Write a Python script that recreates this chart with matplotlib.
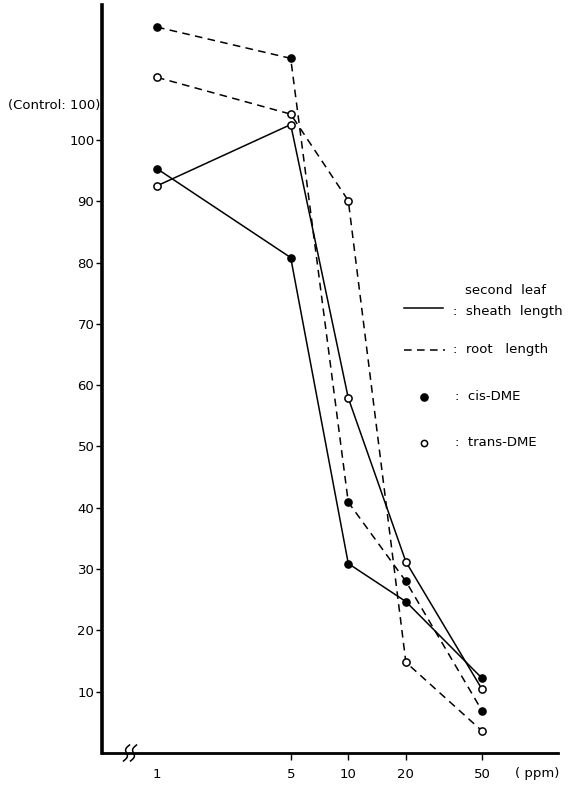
import numpy as np
import matplotlib
matplotlib.use("Agg")
import matplotlib.pyplot as plt
from matplotlib.lines import Line2D

# concentration (ppm) and growth relative to control (=100)
ppm = [1, 5, 10, 20, 50]
sheath_cis = [95.3, 80.8, 30.9, 24.7, 12.2]
sheath_trans = [92.5, 102.5, 57.9, 31.2, 10.4]
root_cis = [118.4, 113.3, 40.9, 28.0, 6.9]
root_trans = [110.2, 104.2, 90.1, 14.8, 3.6]

y_ticks = [10, 20, 30, 40, 50, 60, 70, 80, 90, 100]
x_ticks = [1, 5, 10, 20, 50]
x_ticklabels = ["1", "5", "10", "20", "50"]

plt.rcParams["font.family"] = ["DejaVu Sans"]
plt.rcParams["font.size"] = 9.5

W, H = 577, 787
fig = plt.figure(figsize=(W / 100, H / 100), dpi=100)
ax = fig.add_axes([102 / W, 1 - 753 / H, 456 / W, 748 / H])

lw = 1.1
dash = (5, 3.5)
style = dict(color="black", linewidth=lw, markersize=5.2, clip_on=False, zorder=3)

ax.plot(ppm, sheath_cis, "-o", markerfacecolor="black", **style)
ax.plot(ppm, sheath_trans, "-o", markerfacecolor="white", markeredgewidth=1.1, **style)
ax.plot(ppm, root_cis, "--o", dashes=dash, markerfacecolor="black", **style)
ax.plot(ppm, root_trans, "--o", dashes=dash, markerfacecolor="white", markeredgewidth=1.1, **style)

ax.set_xscale("log")
ax.set_xlim(0.516, 124.8)
ax.set_ylim(0, 122.0)

for side in ["top", "right"]:
    ax.spines[side].set_visible(False)
ax.spines["left"].set_linewidth(2.6)
ax.spines["bottom"].set_linewidth(2.0)

ax.set_yticks(y_ticks)
ax.set_yticklabels([str(v) for v in y_ticks])
ax.tick_params(axis="y", direction="out", length=4, width=1, pad=1.5)

ax.set_xticks(x_ticks)
ax.set_xticklabels(x_ticklabels)
ax.xaxis.set_minor_locator(matplotlib.ticker.NullLocator())
ax.tick_params(axis="x", direction="out", length=5, width=1, pad=6)
ax.xaxis.get_major_ticks()[0].tick1line.set_visible(False)

ax.text(-0.004, 105.6, "(Control: 100)", transform=ax.get_yaxis_transform(),
        ha="right", va="center")
fig.text(537 / W, 1 - 774 / H, "( ppm)", ha="center", va="center")

# axis break mark on the x axis
t = np.linspace(-1, 1, 30)
for dx in (-3.5, 3.5):
    xs = (130 + dx + 2.2 * np.sin(t * np.pi) - 3 * t) / W
    ys = 1 - (753 + 8 * t) / H
    fig.add_artist(Line2D(xs, ys, color="black", linewidth=1.1))

# legend drawn by hand
def fx(px):
    return px / W


def fy(py):
    return 1 - py / H


fig.text(fx(465), fy(291), "second  leaf", va="center")
fig.add_artist(Line2D([fx(404), fx(443)], [fy(308), fy(308)], color="black", linewidth=lw))
fig.text(fx(453), fy(311), ":  sheath  length", va="center")
fig.add_artist(Line2D([fx(404), fx(445)], [fy(350), fy(350)], color="black",
                      linewidth=lw, dashes=dash))
fig.text(fx(453), fy(350), ":  root   length", va="center")
fig.add_artist(Line2D([fx(424)], [fy(397)], marker="o", color="black",
                      markerfacecolor="black", markersize=5.2, linestyle="none"))
fig.text(fx(455), fy(397), ":  cis-DME", va="center")
fig.add_artist(Line2D([fx(424)], [fy(443)], marker="o", color="black",
                      markerfacecolor="white", markersize=4.5, markeredgewidth=1.1,
                      linestyle="none"))
fig.text(fx(455), fy(443), ":  trans-DME", va="center")

fig.savefig("out.png", dpi=100)
